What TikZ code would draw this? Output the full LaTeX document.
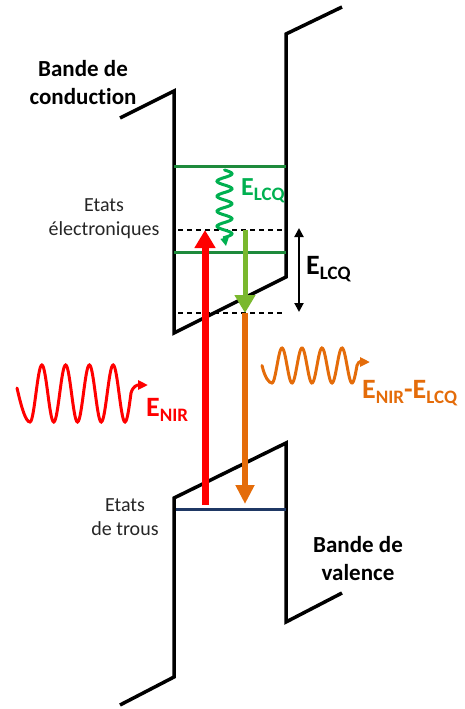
\documentclass[tikz,border=0pt]{standalone}
\usepackage{fontspec}
\setmainfont{Carlito}[Ligatures=NoCommon]
\usepackage{tikz}
\usetikzlibrary{arrows.meta}

\definecolor{nirred}{HTML}{FF0000}
\definecolor{emitorange}{HTML}{E46C0A}
\definecolor{relaxgreen}{HTML}{7AB82E}
\definecolor{lcqgreen}{HTML}{00B050}
\definecolor{levelgreen}{HTML}{1E8A3C}
\definecolor{holeblue}{HTML}{1F3864}
\newcommand{\lowsub}[1]{\raisebox{-5pt}{\fontsize{19}{19}\selectfont #1}}

\begin{document}
\begin{tikzpicture}[x=1pt, y=-1pt,
    band/.style={line width=3.5pt},
    level/.style={line width=3pt},
    guide/.style={line width=1.1pt, dash pattern=on 5pt off 4pt},
    wave/.style={line width=3pt, line cap=round},
    statelbl/.style={font=\fontsize{20}{24}\selectfont, text=black!85, align=center, inner sep=0},
    bandlbl/.style={font=\bfseries\fontsize{23}{28}\selectfont, align=center, inner sep=0},
    elbl/.style={anchor=base west, inner sep=0, font=\bfseries\fontsize{28}{28}\selectfont}]
  \useasboundingbox (0,0) rectangle (465,709);

  % bands
  \draw[band] (120,118) -- (174,91) -- (174,333) -- (286,277) -- (286,34) -- (342,7);
  \draw[band] (120,705) -- (174,677) -- (174,498) -- (286,443) -- (286,622) -- (342,593);

  % levels
  \draw[level, levelgreen] (174,166) -- (286,166);
  \draw[level, levelgreen] (174,252) -- (286,252);
  \draw[level, holeblue] (176,509) -- (286,509);
  \draw[guide] (178,230) -- (285,230);
  \draw[guide] (178,313) -- (282,313);

  % texts
  \node[bandlbl] (cband) at (83,83) {Bande de\\conduction};
  \node[statelbl] (estates) at (104,219) {Etats\\électroniques};
  \node[statelbl] (hstates) at (125,517) {Etats\\de trous};
  \node[bandlbl] (vband) at (358,559) {Bande de\\valence};

  \node[elbl, lcqgreen, font=\bfseries\fontsize{26}{26}\selectfont] (elcqgreen) at (241,195) {E\lowsub{LCQ}};
  \node[elbl] (elcq) at (306,274) {E\lowsub{LCQ}};
  \node[elbl, nirred] (enir) at (146,416) {E\lowsub{NIR}};
  \node[elbl, emitorange] (eout) at (362,398) {E\lowsub{NIR}-E\lowsub{LCQ}};

  % arrow ends
  \coordinate (nirlow) at (205,505);
  \coordinate (nirtop) at (205,230);
  \coordinate (relaxtop) at (245,230);
  \coordinate (relaxlow) at (245,313);
  \coordinate (emitlow) at (245,504);
  \coordinate (gaptop) at (299,228);
  \coordinate (gaplow) at (299,312);
  \coordinate (sqend) at (226,246);
  \coordinate (nirwave) at (148,385);
  \coordinate (outwave) at (370,362);

  % transitions
  \draw[line width=7pt, nirred, -{Triangle[length=18pt, width=20pt]}] (nirlow) -- (nirtop);
  \draw[line width=5pt, relaxgreen, -{Triangle[length=18pt, width=20pt]}] (relaxtop) -- (relaxlow);
  \draw[line width=5.5pt, emitorange, -{Triangle[length=19pt, width=18pt]}] (relaxlow) -- (emitlow);
  \draw[line width=2pt, {Triangle[length=9pt, width=9pt]}-{Triangle[length=9pt, width=9pt]}] (gaptop) -- (gaplow);

  % photons
  \draw[wave, lcqgreen, -{Triangle[length=8pt, width=8pt]}]
    plot[domain=170:237.5, samples=90, smooth] ({224.5+7.5*sin((\x-170)/15*360)}, {\x}) -- (sqend);
  \draw[wave, nirred, -{Triangle[length=10pt, width=9pt]}]
    (17,388) .. controls (22,410) and (26,422) .. (30,422)
    -- plot[domain=30:131, samples=120] ({\x}, {393.5+28.5*cos((\x-30)/23.75*360)})
    .. controls (133,386) and (137,385) .. (nirwave);
  \draw[wave, emitorange, -{Triangle[length=10pt, width=9pt]}]
    (262,365.5) .. controls (265,378) and (269,383) .. (272,383)
    -- plot[domain=272:357, samples=110] ({\x}, {365.5+17.5*cos((\x-272)/20*360)})
    .. controls (359,360) and (362,362) .. (outwave);
\end{tikzpicture}
\end{document}
